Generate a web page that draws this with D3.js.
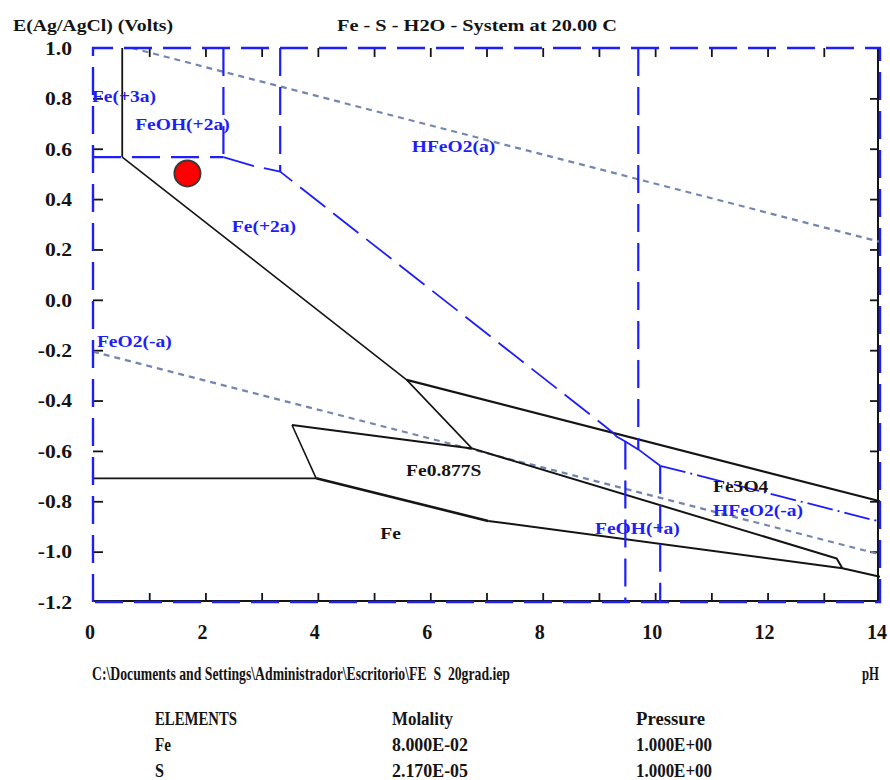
<!DOCTYPE html>
<html><head><meta charset="utf-8">
<script src="https://cdn.jsdelivr.net/npm/d3@7"></script>
<style>body{margin:0;background:#fff}svg{display:block}</style>
</head><body>
<script>
// ---------- data (pH, E in volts vs Ag/AgCl) ----------
const xTickValues = [0, 2, 4, 6, 8, 10, 12, 14];
const xMinorTicks = [1, 2, 3, 4, 5, 6, 7, 8, 9, 10, 11, 12, 13];
const yTickValues = [1.0, 0.8, 0.6, 0.4, 0.2, 0.0, -0.2, -0.4, -0.6, -0.8, -1.0, -1.2];
const yInnerTicks = [0.8, 0.6, 0.4, 0.2, 0.0, -0.2, -0.4, -0.6, -0.8, -1.0];

// black solid boundaries (Fe-S species)
const blackVertFe3 = [[0.52, 1.0], [0.52, 0.567]];
const blackFe2Lower = [[0.52, 0.567], [5.58, -0.318], [6.74, -0.59]];
const blackFe3O4Upper = [[5.58, -0.318], [14, -0.80]];
const blackFeSUpper = [[3.54, -0.497], [6.74, -0.59], [13.23, -1.027], [13.33, -1.066]];
const blackFeSLeft = [[3.54, -0.497], [3.97, -0.709]];
const blackFeHoriz = [[0, -0.709], [3.97, -0.709]];
const blackFeLowerA = [[3.97, -0.709], [7.03, -0.878]];
const blackFeLowerB = [[7.03, -0.878], [13.33, -1.066], [14, -1.10]];

// blue boundaries (Fe-H2O species)
const blueHoriz = [[0, 0.567], [2.32, 0.567]];
const blueVertA = [[2.32, 1.0], [2.32, 0.567]];
const blueVertB = [[3.33, 1.0], [3.33, 0.509]];
const blueDiag = [[2.32, 0.567], [2.85, 0.532], [3.33, 0.509], [9.08, -0.497], [9.26, -0.530]];
const blueBend = [[9.26, -0.530], [9.32, -0.544], [9.47, -0.563], [9.70, -0.594], [10.09, -0.659]];
const blueTail = [[10.09, -0.659], [14, -0.881]];
const blueVertC = [[9.70, 1.0], [9.70, -0.594]];
const blueVertD = [[9.47, -0.563], [9.47, -1.2]];
const blueVertE = [[10.09, -0.659], [10.09, -1.2]];

// water stability lines
const waterO2 = [[0.69, 1.0], [14, 0.23]];
const waterH2 = [[0, -0.206], [14, -1.011]];

// marked point
const marker = [[1.68, 0.502]];

// region labels [text, pH (left), E (centre), kind]
const regionLabels = [
  ["Fe(+3a)", -0.02, 0.807, "blue"],
  ["FeOH(+2a)", 0.75, 0.697, "blue"],
  ["HFeO2(a)", 5.67, 0.608, "blue"],
  ["Fe(+2a)", 2.47, 0.293, "blue"],
  ["FeO2(-a)", 0.07, -0.164, "blue"],
  ["Fe0.877S", 5.57, -0.676, "black"],
  ["Fe", 5.11, -0.927, "black"],
  ["Fe3O4", 11.03, -0.742, "black"],
  ["HFeO2(-a)", 11.03, -0.835, "blue"],
  ["FeOH(+a)", 8.93, -0.907, "blue"]
];

const yAxisTitle = "E(Ag/AgCl) (Volts)";
const chartTitle = "Fe - S - H2O - System at 20.00 C";
const filePath = "C:\\Documents and Settings\\Administrador\\Escritorio\\FE  S  20grad.iep";
const xAxisTitle = "pH";
const tableHeader = ["ELEMENTS", "Molality", "Pressure"];
const tableRows = [["Fe", "8.000E-02", "1.000E+00"], ["S", "2.170E-05", "1.000E+00"]];

// ---------- drawing ----------
const W = 890, H = 780;
const BLUE = "#1e1efa", BLACK = "#141414", GRAY = "#7486ad";
const FONT = "'Liberation Serif','Times New Roman',serif";

const svg = d3.select("body").append("svg").attr("width", W).attr("height", H);
const x = d3.scaleLinear().domain([0, 14]).range([93, 880]);
const y = d3.scaleLinear().domain([-1.2, 1.0]).range([602, 48]);
const line = d3.line().x(d => x(d[0])).y(d => y(d[1]));

function txt(str, px, py, size, opts = {}) {
  const t = svg.append("text").attr("x", px).attr("y", py).attr("dy", "0.35em")
    .attr("font-family", FONT).attr("font-weight", "bold").attr("font-size", size)
    .attr("fill", opts.color || BLACK).attr("text-anchor", opts.anchor || "start")
    .style("white-space", "pre").text(str);
  if (opts.width) t.attr("textLength", opts.width).attr("lengthAdjust", "spacingAndGlyphs");
  else if (opts.stretch) {
    const w = t.node().getComputedTextLength();
    t.attr("textLength", w * opts.stretch).attr("lengthAdjust", "spacingAndGlyphs");
  }
  return t;
}

function path(data, color, width, dash) {
  const p = svg.append("path").datum(data).attr("d", line).attr("fill", "none")
    .attr("stroke", color).attr("stroke-width", width).attr("stroke-linejoin", "round");
  if (dash) p.attr("stroke-dasharray", dash);
  return p;
}

// solid black axis lines (bottom, right)
svg.append("line").attr("x1", x(0)).attr("x2", x(14)).attr("y1", y(-1.2) - 1).attr("y2", y(-1.2) - 1)
  .attr("stroke", BLACK).attr("stroke-width", 2);
svg.append("line").attr("x1", x(14) - 2).attr("x2", x(14) - 2).attr("y1", y(1.0)).attr("y2", y(-1.2))
  .attr("stroke", BLACK).attr("stroke-width", 2);

// inner ticks via d3 axes
function tickAxis(axis, tx, ty) {
  const g = svg.append("g").attr("transform", `translate(${tx},${ty})`).call(axis);
  g.select(".domain").remove();
  g.selectAll(".tick line").attr("stroke", BLACK).attr("stroke-width", 1.8);
  g.selectAll("text").remove();
  return g;
}
tickAxis(d3.axisTop(x).tickValues(xMinorTicks).tickSize(8), 0, y(-1.2) - 1);
tickAxis(d3.axisBottom(x).tickValues(xMinorTicks).tickSize(9), 0, y(1.0));
tickAxis(d3.axisRight(y).tickValues(yInnerTicks).tickSize(10), x(0), 0);
tickAxis(d3.axisLeft(y).tickValues(yInnerTicks).tickSize(8), x(14) - 2, 0);

// tick labels via d3 axes
const gy = svg.append("g").attr("transform", `translate(${x(0)},0)`)
  .call(d3.axisLeft(y).tickValues(yTickValues).tickSize(0).tickPadding(21).tickFormat(d => d.toFixed(1)));
gy.select(".domain").remove();
gy.selectAll("text").attr("font-family", FONT).attr("font-weight", "bold").attr("font-size", 18)
  .attr("fill", BLACK).attr("dy", "0.35em")
  .each(function () { const w = this.getComputedTextLength(); d3.select(this).attr("textLength", w * 1.2).attr("lengthAdjust", "spacingAndGlyphs"); });

const gx = svg.append("g").attr("transform", `translate(0,${y(-1.2)})`)
  .call(d3.axisBottom(x).tickValues(xTickValues).tickSize(0).tickPadding(0).tickFormat(d3.format("d")));
gx.select(".domain").remove();
gx.selectAll("text").attr("font-family", FONT).attr("font-weight", "bold").attr("font-size", 20)
  .attr("fill", BLACK).attr("x", -3.5).attr("y", 30).attr("dy", "0.35em");

// water lines (gray dotted)
path(waterO2, GRAY, 2.2, "6,5");
path(waterH2, GRAY, 2.2, "6,5");

// black boundaries
path(blackVertFe3, BLACK, 1.8);
path(blackFe2Lower, BLACK, 1.6);
path(blackFe3O4Upper, BLACK, 2.2);
path(blackFeSUpper, BLACK, 2);
path(blackFeSLeft, BLACK, 1.6);
path(blackFeHoriz, BLACK, 1.8);
path(blackFeLowerA, BLACK, 2.6);
path(blackFeLowerB, BLACK, 2);

// blue boundaries
path(blueHoriz, BLUE, 2.2, "28,11");
path(blueVertA, BLUE, 2.2, "28,11");
path(blueVertB, BLUE, 2.2, "28,11");
path(blueDiag, BLUE, 1.8, "32,10");
path(blueBend, BLUE, 1.8);
path(blueTail, BLUE, 1.8, "26,5,2,5");
path(blueVertC, BLUE, 2.2, "28,11");
path(blueVertD, BLUE, 2.2, "28,11");
path(blueVertE, BLUE, 2.2, "28,11");

// blue dashed frame
const frame = [[0, -1.2], [0, 1.0], [14, 1.0], [14, -1.2], [0, -1.2]];
svg.append("path").datum(frame).attr("d", d => line(d))
  .attr("fill", "none").attr("stroke", BLUE).attr("stroke-width", 2.4).attr("stroke-dasharray", "28,11");

// marker
svg.selectAll("circle.marker").data(marker).enter().append("circle")
  .attr("cx", d => x(d[0])).attr("cy", d => y(d[1])).attr("r", 13)
  .attr("fill", "#ff0000").attr("stroke", "#3a3a3a").attr("stroke-width", 2);

// region labels
regionLabels.forEach(([s, ph, e, kind]) => {
  txt(s, x(ph), y(e), 16, { color: kind === "blue" ? BLUE : BLACK, stretch: 1.22 });
});

// titles
txt(yAxisTitle, 13, 25, 16, { width: 160 });
txt(chartTitle, 337, 25, 16, { width: 280 });
txt(filePath, 92, 673, 19, { width: 418 });
txt(xAxisTitle, 862, 673, 19, { width: 17 });

// element table
const colX = [155, 392, 636];
const headW = [82, 61, 69];
tableHeader.forEach((s, i) => txt(s, colX[i], 718, 19, { width: headW[i] }));
const rowW = [[16, 76, 76], [9, 76, 76]];
tableRows.forEach((row, r) => row.forEach((s, i) => txt(s, colX[i], 744 + r * 26, 19, { width: rowW[r][i] })));
</script>
</body></html>
